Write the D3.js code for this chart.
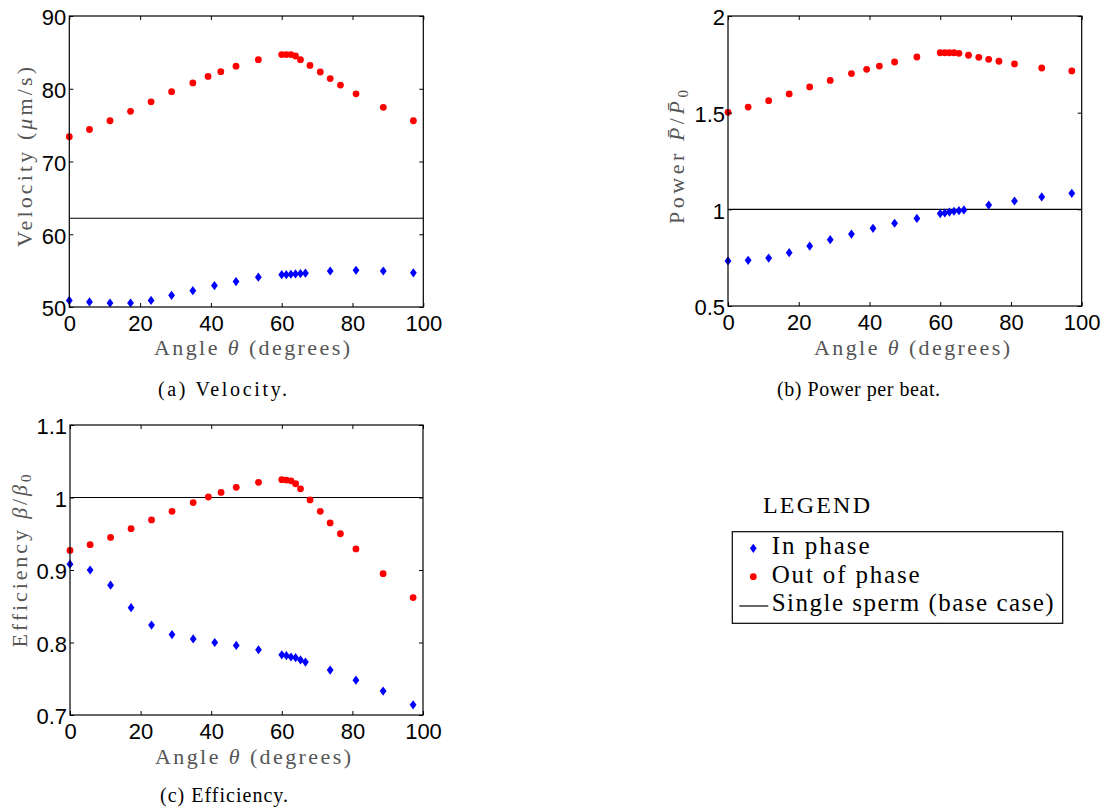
<!DOCTYPE html>
<html>
<head>
<meta charset="utf-8">
<script src="https://cdn.jsdelivr.net/npm/d3@7"></script>
<style>
  body { margin: 0; background: #fff; }
  .tick text { font-family: "Liberation Sans", Arial, sans-serif; font-size: 22px; fill: #000; }
  .tick line { stroke: #000; }
  .serif { font-family: "Liberation Serif", "Times New Roman", serif; }
</style>
</head>
<body>
<svg id="fig" width="1105" height="810"></svg>
<script>
// angles (degrees) for the two series
const angleIn = [0, 5.7, 11.5, 17.3, 23.1, 28.9, 34.9, 41.0, 47.1, 53.4, 60.0, 61.3, 62.6, 63.9, 65.3, 66.7, 73.7, 81.0, 88.7, 97.2]
const angleOut = [0, 5.7, 11.5, 17.3, 23.1, 28.9, 34.9, 39.2, 42.8, 47.1, 53.4, 60.0, 61.3, 62.6, 63.9, 65.3, 68.0, 70.9, 73.7, 76.6, 81.0, 88.7, 97.2]

// (a) velocity, um/s
const velocityIn = [50.9, 50.7, 50.55, 50.55, 50.9, 51.6, 52.25, 52.95, 53.5, 54.1, 54.45, 54.45, 54.5, 54.55, 54.6, 54.65, 54.95, 55.05, 54.95, 54.7]
const velocityOut = [73.4, 74.4, 75.6, 76.9, 78.2, 79.6, 80.8, 81.7, 82.35, 83.1, 84.0, 84.7, 84.7, 84.7, 84.5, 84.0, 83.2, 82.3, 81.4, 80.5, 79.3, 77.45, 75.6]
const velocityBase = 62.2

// (b) power per beat
const powerIn = [0.733, 0.736, 0.748, 0.776, 0.810, 0.843, 0.872, 0.902, 0.928, 0.953, 0.978, 0.981, 0.986, 0.990, 0.993, 0.997, 1.022, 1.043, 1.064, 1.083]
const powerOut = [1.502, 1.529, 1.562, 1.597, 1.633, 1.667, 1.702, 1.724, 1.741, 1.762, 1.788, 1.810, 1.810, 1.810, 1.810, 1.807, 1.797, 1.786, 1.776, 1.766, 1.752, 1.731, 1.716]
const powerBase = 1

// (c) efficiency
const efficiencyIn = [0.908, 0.900, 0.879, 0.848, 0.824, 0.811, 0.805, 0.800, 0.796, 0.790, 0.783, 0.782, 0.780, 0.779, 0.776, 0.773, 0.762, 0.748, 0.733, 0.714]
const efficiencyOut = [0.927, 0.935, 0.945, 0.957, 0.969, 0.981, 0.993, 1.0007, 1.007, 1.014, 1.021, 1.0246, 1.0241, 1.023, 1.019, 1.012, 0.9966, 0.981, 0.965, 0.950, 0.929, 0.895, 0.862]
const efficiencyBase = 1

const xTicks = [0, 20, 40, 60, 80, 100]
const velocityTicks = [50, 60, 70, 80, 90]
const powerTicks = [0.5, 1, 1.5, 2]
const efficiencyTicks = [0.7, 0.8, 0.9, 1, 1.1]

const legendLabels = ['In phase', 'Out of phase', 'Single sperm (base case)']

const svg = d3.select('#fig')
const diamond = 'M0,-4.6L3.4,0L0,4.6L-3.4,0Z'

let drawPanel = (p) => {
  let x = d3.scaleLinear().domain([0, 100]).range([p.left, p.right])
  let y = d3.scaleLinear().domain(p.yDomain).range([p.bottom, p.top])
  let g = svg.append('g')

  // baseline (single sperm)
  g.append('line')
    .attr('x1', x(0)).attr('x2', x(100))
    .attr('y1', y(p.base)).attr('y2', y(p.base))
    .attr('stroke', '#000').attr('stroke-width', 1.2)

  g.selectAll('path.in')
    .data(p.inVals)
    .enter()
    .append('path')
    .attr('class', 'in')
    .attr('d', diamond)
    .attr('fill', '#0000ff')
    .attr('transform', (d, i) => `translate(${x(angleIn[i])},${y(d)})`)

  g.selectAll('circle.out')
    .data(p.outVals)
    .enter()
    .append('circle')
    .attr('class', 'out')
    .attr('r', 3.4)
    .attr('fill', '#ff0000')
    .attr('cx', (d, i) => x(angleOut[i]))
    .attr('cy', d => y(d))

  // axes, MATLAB style ticks pointing in
  g.append('g').attr('transform', `translate(0,${p.bottom})`)
    .call(d3.axisBottom(x).tickValues(xTicks).tickFormat(d => d).tickSizeInner(-4).tickSizeOuter(0).tickPadding(8))
  g.append('g').attr('transform', `translate(0,${p.top})`)
    .call(d3.axisTop(x).tickValues(xTicks).tickFormat('').tickSizeInner(-4).tickSizeOuter(0))
  g.append('g').attr('class', 'yax').attr('transform', `translate(${p.left},0)`)
    .call(d3.axisLeft(y).tickValues(p.yTicks).tickFormat(d => d).tickSizeInner(-4).tickSizeOuter(0).tickPadding(3))
  g.append('g').attr('transform', `translate(${p.right},0)`)
    .call(d3.axisRight(y).tickValues(p.yTicks).tickFormat('').tickSizeInner(-4).tickSizeOuter(0))
  g.selectAll('.domain').remove()
  g.selectAll('.yax .tick text').attr('dy', '0.4em')

  g.append('rect')
    .attr('x', p.left).attr('y', p.top)
    .attr('width', p.right - p.left).attr('height', p.bottom - p.top)
    .attr('fill', 'none').attr('stroke', '#000').attr('stroke-width', 1.2)

  // x label
  let xl = g.append('text').attr('class', 'serif')
    .attr('x', p.xTitle[0]).attr('y', p.xTitle[1])
    .attr('text-anchor', 'middle').attr('font-size', 22).attr('fill', '#555')
    .attr('textLength', 196).attr('lengthAdjust', 'spacing')
  xl.append('tspan').text('Angle ')
  xl.append('tspan').attr('font-style', 'italic').text('θ')
  xl.append('tspan').text(' (degrees)')

  // y label
  let yl = g.append('text').attr('class', 'serif')
    .attr('transform', `translate(${p.yTitle[0]},${p.yTitle[1]}) rotate(-90)`)
    .attr('text-anchor', 'middle').attr('font-size', 22).attr('fill', '#555')
    .attr('textLength', p.yTitle[2]).attr('lengthAdjust', 'spacing')
  p.yLabel(yl)

  svg.append('text').attr('class', 'serif')
    .attr('x', p.caption[1]).attr('y', p.caption[2])
    .attr('font-size', 20).attr('fill', '#000')
    .attr('textLength', p.caption[3]).attr('lengthAdjust', 'spacing')
    .text(p.caption[0])
}

drawPanel({
  left: 69.3, right: 423.3, top: 16, bottom: 307,
  yDomain: [50, 90], yTicks: velocityTicks,
  inVals: velocityIn, outVals: velocityOut, base: velocityBase,
  xTitle: [252, 355], yTitle: [32, 157, 180],
  yLabel: (t) => {
    t.append('tspan').text('Velocity (')
    t.append('tspan').attr('font-style', 'italic').text('μ')
    t.append('tspan').text('m/s)')
  },
  caption: ['(a) Velocity.', 158, 396, 129]
})

drawPanel({
  left: 728, right: 1081.7, top: 16, bottom: 306,
  yDomain: [0.5, 2], yTicks: powerTicks,
  inVals: powerIn, outVals: powerOut, base: powerBase,
  xTitle: [912, 355], yTitle: [684, 157, 134],
  yLabel: (t) => {
    t.append('tspan').text('Power ')
    t.append('tspan').attr('font-style', 'italic').text('P̄')
    t.append('tspan').text('/')
    t.append('tspan').attr('font-style', 'italic').text('P̄')
    t.append('tspan').attr('font-size', 15).attr('dy', 4).text('0')
  },
  caption: ['(b) Power per beat.', 777, 396, 163]
})

drawPanel({
  left: 70, right: 423, top: 425, bottom: 715,
  yDomain: [0.7, 1.1], yTicks: efficiencyTicks,
  inVals: efficiencyIn, outVals: efficiencyOut, base: efficiencyBase,
  xTitle: [253, 764], yTitle: [27, 561, 173],
  yLabel: (t) => {
    t.append('tspan').text('Efficiency ')
    t.append('tspan').attr('font-style', 'italic').text('β')
    t.append('tspan').text('/')
    t.append('tspan').attr('font-style', 'italic').text('β')
    t.append('tspan').attr('font-size', 15).attr('dy', 4).text('0')
  },
  caption: ['(c) Efficiency.', 160, 802, 128]
})

// legend
let lg = svg.append('g')
lg.append('text').attr('class', 'serif')
  .attr('x', 763).attr('y', 513).attr('font-size', 24)
  .attr('textLength', 107).attr('lengthAdjust', 'spacing')
  .text('LEGEND')
lg.append('rect')
  .attr('x', 732.3).attr('y', 531.7).attr('width', 330.4).attr('height', 91.6)
  .attr('fill', '#fff').attr('stroke', '#000').attr('stroke-width', 1.2)
lg.append('path').attr('d', diamond).attr('fill', '#0000ff')
  .attr('transform', 'translate(753.3,548.3)')
lg.append('circle').attr('cx', 753.3).attr('cy', 576.7).attr('r', 3.4).attr('fill', '#ff0000')
lg.append('line').attr('x1', 739.3).attr('x2', 768.3).attr('y1', 606).attr('y2', 606)
  .attr('stroke', '#000').attr('stroke-width', 1.2)
const legendWidths = [98, 148, 282]
const legendBase = [554, 583, 611]
lg.selectAll('text.item')
  .data(legendLabels)
  .enter()
  .append('text')
  .attr('class', 'serif item')
  .attr('x', 771.7)
  .attr('y', (d, i) => legendBase[i])
  .attr('font-size', 25)
  .attr('textLength', (d, i) => legendWidths[i])
  .attr('lengthAdjust', 'spacing')
  .text(d => d)
</script>
</body>
</html>
